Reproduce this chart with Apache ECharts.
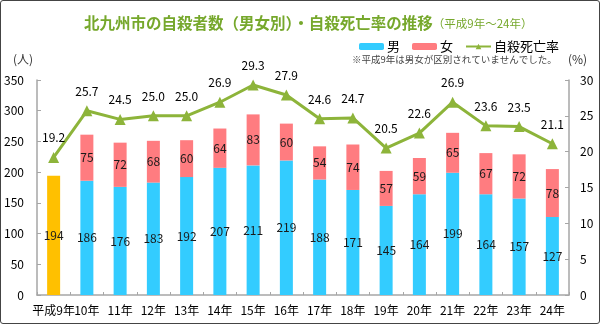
<!DOCTYPE html>
<html><head><meta charset="utf-8">
<script src="https://cdn.jsdelivr.net/npm/echarts@6/dist/echarts.min.js"></script>
<style>
html,body{margin:0;padding:0;background:#fff;}
#c{width:600px;height:324px;box-sizing:border-box;border:1px solid #444;border-radius:3px;}
</style></head><body>
<div id="c"></div>
<script>
const categories = ['平成9年','10年','11年','12年','13年','14年','15年','16年','17年','18年','19年','20年','21年','22年','23年','24年'];
const totalH9 = [194,'-','-','-','-','-','-','-','-','-','-','-','-','-','-','-'];
const male = ['-',186,176,183,192,207,211,219,188,171,145,164,199,164,157,127];
const female = ['-',75,72,68,60,64,83,60,54,74,57,59,65,67,72,78];
const rate = [19.2,25.7,24.5,25.0,25.0,26.9,29.3,27.9,24.6,24.7,20.5,22.6,26.9,23.6,23.5,21.1];
const leftTicks = [0,50,100,150,200,250,300,350];
const rightTicks = [0,5,10,15,20,25,30];

const FONT = '"Noto Sans CJK JP", "Noto Sans", sans-serif';
const chart = echarts.init(document.getElementById('c'), null, {renderer:'canvas'});
const barLabel = {show:true, position:'inside', color:'#1a1a1a', fontSize:12, fontFamily:FONT};
chart.setOption({
  animation:false,
  textStyle:{fontFamily:FONT},
  title:{
    text:'{a|北九州市の自殺者数（男女別）・自殺死亡率の推移}{b|（平成9年～24年）}',
    left:78, top:9,
    textStyle:{rich:{
      a:{fontSize:15.5, fontWeight:'bold', color:'#76a82c', fontFamily:FONT},
      b:{fontSize:11.5, fontWeight:'normal', color:'#76a82c', fontFamily:FONT, padding:[2,0,0,0]}
    }}
  },
  legend:{
    left:353, top:34, itemWidth:25, itemHeight:7, itemGap:12,
    textStyle:{fontSize:13, color:'#000', fontFamily:FONT, padding:[0,0,0,-2]},
    data:['男','女','自殺死亡率']
  },
  graphic:[
    {type:'text', left:12, top:52, style:{text:'(人)', fontSize:12, fill:'#333', fontFamily:FONT}},
    {type:'text', left:567, top:52, style:{text:'(%)', fontSize:12, fill:'#333', fontFamily:FONT}},
    {type:'text', left:351, top:54, style:{text:'※平成9年は男女が区別されていませんでした。', fontSize:9.5, fill:'#444', fontFamily:FONT}}
  ],
  grid:{left:36, right:30, top:79, bottom:28},
  xAxis:{
    type:'category', data:categories,
    axisLine:{lineStyle:{color:'#a6a6a6', width:1.5}},
    axisTick:{show:true, inside:true, length:3, lineStyle:{color:'#a6a6a6'}},
    axisLabel:{color:'#000', fontSize:12, margin:9, interval:0, fontFamily:FONT}
  },
  yAxis:[
    {type:'value', min:0, max:350, interval:50,
     axisLine:{show:true, lineStyle:{color:'#a6a6a6', width:1.5}},
     axisTick:{show:true, inside:true, length:4, lineStyle:{color:'#a6a6a6'}},
     splitLine:{show:false},
     axisLabel:{color:'#000', fontSize:12, margin:13, fontFamily:FONT,
       formatter:v=>leftTicks.includes(v)?String(v):''}},
    {type:'value', min:0, max:30, interval:5,
     axisLine:{show:true, lineStyle:{color:'#a6a6a6', width:1.5}},
     axisTick:{show:true, inside:true, length:4, lineStyle:{color:'#a6a6a6'}},
     splitLine:{show:false},
     axisLabel:{color:'#000', fontSize:12, margin:11, fontFamily:FONT,
       formatter:v=>rightTicks.includes(v)?String(v):''}}
  ],
  series:[
    {name:'合計', type:'bar', stack:'a', data:totalH9, barWidth:13,
     itemStyle:{color:'#ffc000'}, label:barLabel},
    {name:'男', type:'bar', stack:'a', data:male, barWidth:13,
     itemStyle:{color:'#33ccff'}, label:barLabel},
    {name:'女', type:'bar', stack:'a', data:female, barWidth:13,
     itemStyle:{color:'#ff7c80'}, label:barLabel},
    {name:'自殺死亡率', type:'line', yAxisIndex:1, data:rate,
     lineStyle:{color:'#8db43a', width:3}, itemStyle:{color:'#8db43a'},
     symbol:'triangle', symbolSize:11,
     label:{show:true, position:'top', distance:8, color:'#000', fontSize:12, fontFamily:FONT,
       formatter:p=>Number(p.value).toFixed(1)}}
  ]
});
</script>
</body></html>
